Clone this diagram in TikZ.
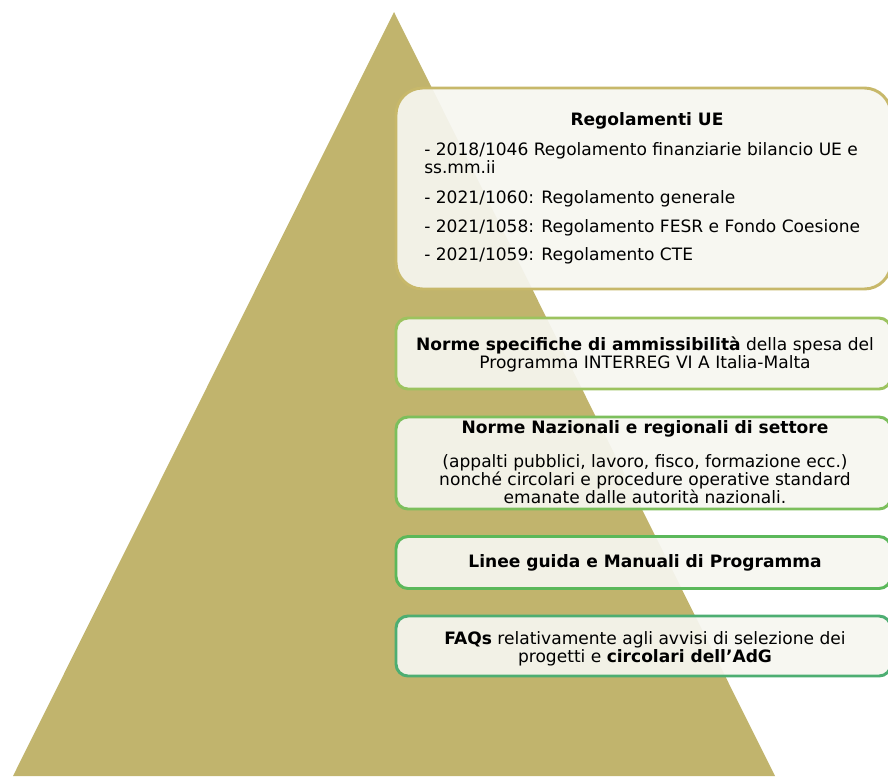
\documentclass[tikz,border=0pt]{standalone}
\usepackage{fontspec}
\setmainfont{DejaVu Sans}
\definecolor{piramide}{HTML}{C1B46D}
\definecolor{bordoA}{HTML}{C7B86A}
\definecolor{bordoB}{HTML}{9CC35F}
\definecolor{bordoC}{HTML}{7CBF5C}
\definecolor{bordoD}{HTML}{5BB85A}
\definecolor{bordoE}{HTML}{4DAE72}
\definecolor{sfondo}{HTML}{F6F6F0}
\tikzset{
  livello/.style={draw,line width=2.2pt,fill=sfondo,fill opacity=0.93,
    rounded corners=9pt,inner sep=0pt},
  testo/.style={inner sep=0pt,font=\fontsize{12.8}{13.5}\selectfont,text=black},
}
\begin{document}
\begin{tikzpicture}[x=0.75pt,y=-0.75pt]
  \useasboundingbox (0,0) rectangle (888,776);
  % piramide
  \fill[piramide] (394,12) -- (775,776) -- (13,776) -- cycle;
  % livelli
  \draw[livello,draw=bordoA,rounded corners=20pt] (396,88) rectangle (891,289);
  \node[livello,draw=bordoB,minimum width=495*0.75pt,minimum height=71*0.75pt] (L2) at (643.5,353.5){};
  \node[livello,draw=bordoC,minimum width=495*0.75pt,minimum height=92*0.75pt] (L3) at (643.5,463){};
  \node[livello,draw=bordoD,minimum width=495*0.75pt,minimum height=52*0.75pt] (L4) at (643.5,562.5){};
  \node[livello,draw=bordoE,minimum width=495*0.75pt,minimum height=60*0.75pt] (L5) at (643.5,646){};
  % testi (base = ultima riga)
  \node[testo,anchor=base] (T1) at (647,125){\bfseries Regolamenti UE};
  \node[testo,anchor=base west,align=left] (T1a) at (424,173){- 2018/1046 Regolamento finanziarie bilancio UE e\\ss.mm.ii};
  \node[testo,anchor=base west] (T1b) at (424,203){- 2021/1060: Regolamento generale};
  \node[testo,anchor=base west] (T1c) at (424,232){- 2021/1058: Regolamento FESR e Fondo Coesione};
  \node[testo,anchor=base west] (T1d) at (424,260){- 2021/1059: Regolamento CTE};
  \node[testo,anchor=base,align=center] (T2) at (645,368){\textbf{Norme specifiche di ammissibilità} della spesa del\\Programma INTERREG VI A Italia-Malta};
  \node[testo,anchor=base] (T3) at (645,433){\bfseries Norme Nazionali e regionali di settore};
  \node[testo,anchor=base,align=center] (T3a) at (645,503){(appalti pubblici, lavoro, fisco, formazione ecc.)\\nonché circolari e procedure operative standard\\emanate dalle autorità nazionali.};
  \node[testo,anchor=base] (T4) at (645,567){\bfseries Linee guida e Manuali di Programma};
  \node[testo,anchor=base,align=center] (T5) at (645,662){\textbf{FAQs} relativamente agli avvisi di selezione dei\\progetti e \textbf{circolari dell’AdG}};
\end{tikzpicture}
\end{document}
